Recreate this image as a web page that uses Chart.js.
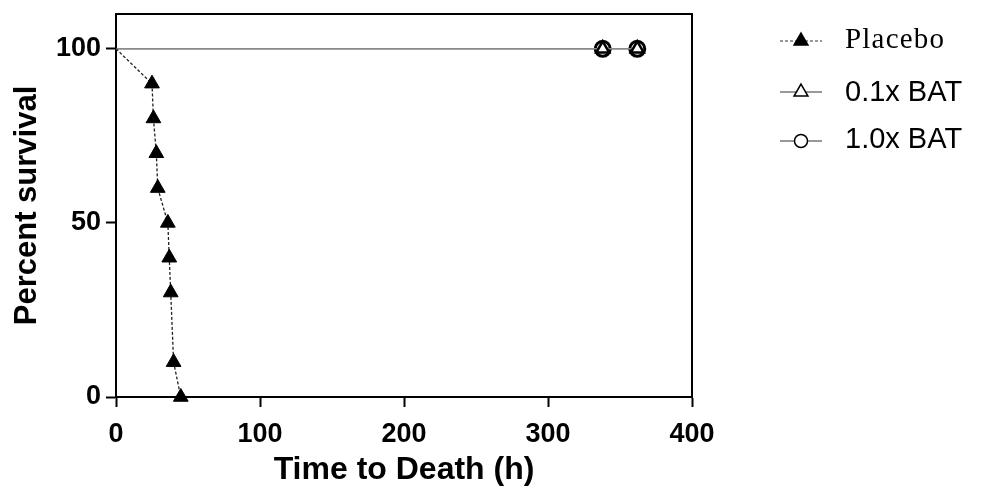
<!DOCTYPE html>
<html lang="en">
<head>
<meta charset="UTF-8">
<title>Percent survival</title>
<script src="https://cdn.jsdelivr.net/npm/chart.js"></script>
<style>
  html, body { margin: 0; padding: 0; background: #fff; }
  .chart-container { position: relative; width: 984px; height: 486px; }
</style>
</head>
<body>
<div class="chart-container">
  <canvas id="Chart"></canvas>
</div>
<script>
// Data
const seriesNames = ["Placebo", "0.1x BAT", "1.0x BAT"];
const placeboTime = [0, 25, 26, 28, 29, 36, 37, 38, 40, 45];
const placeboSurvival = [100, 90, 80, 70, 60, 50, 40, 30, 10, 0];
const batTime = [0, 338, 362];
const bat01Survival = [100, 100, 100];
const bat10Survival = [100, 100, 100];
const xTicks = [0, 100, 200, 300, 400];
const yTicks = [0, 50, 100];

const toPoints = (xs, ys) => xs.map((x, i) => ({ x: x, y: ys[i] }));

const tickFont = { family: "'Liberation Sans', Arial, sans-serif", size: 27, weight: "bold" };
const xTitleFont = { family: "'Liberation Sans', Arial, sans-serif", size: 32, weight: "bold" };
const yTitleFont = { family: "'Liberation Sans', Arial, sans-serif", size: 31, weight: "bold" };

// top and right sides of the plot frame
const framePlugin = {
  id: "frame",
  beforeDatasetsDraw(chart) {
    const { ctx, chartArea: a } = chart;
    ctx.save();
    ctx.strokeStyle = "#000";
    ctx.lineWidth = 2;
    ctx.beginPath();
    ctx.moveTo(a.left, a.top);
    ctx.lineTo(a.right, a.top);
    ctx.lineTo(a.right, a.bottom);
    ctx.stroke();
    ctx.restore();
  }
};

// legend to the right of the plot, like the original figure
const sideLegendPlugin = {
  id: "sideLegend",
  afterDraw(chart, args, opts) {
    const ctx = chart.ctx;
    ctx.save();
    chart.data.datasets.forEach((ds, i) => {
      const y = opts.rows[i];
      const x0 = opts.lineStart, x1 = opts.lineEnd, xm = (x0 + x1) / 2;
      ctx.strokeStyle = ds.legendLineColor;
      ctx.lineWidth = 1.2;
      ctx.setLineDash(ds.borderDash || []);
      ctx.beginPath();
      ctx.moveTo(x0, y);
      ctx.lineTo(x1, y);
      ctx.stroke();
      ctx.setLineDash([]);

      const r = opts.markerRadius[i];
      ctx.beginPath();
      if (ds.pointStyle === "circle") {
        ctx.arc(xm, y, r, 0, Math.PI * 2);
      } else {
        for (let k = 0; k < 3; k++) {
          const ang = k * 2 * Math.PI / 3;
          const px = xm + Math.sin(ang) * r, py = y - Math.cos(ang) * r;
          if (k === 0) ctx.moveTo(px, py); else ctx.lineTo(px, py);
        }
        ctx.closePath();
      }
      ctx.fillStyle = ds.legendFill;
      ctx.fill();
      ctx.strokeStyle = "#000";
      ctx.lineWidth = 1.5;
      ctx.stroke();

      ctx.fillStyle = "#000";
      ctx.font = opts.fonts[i];
      ctx.letterSpacing = opts.spacing[i];
      ctx.textBaseline = "alphabetic";
      ctx.textAlign = "left";
      ctx.fillText(seriesNames[i], opts.textStart, opts.baselines[i]);
      ctx.letterSpacing = "0px";
    });
    ctx.restore();
  }
};

new Chart(document.getElementById("Chart").getContext("2d"), {
  type: "scatter",
  data: {
    datasets: [
      {
        label: seriesNames[0],
        data: toPoints(placeboTime, placeboSurvival),
        showLine: true,
        borderColor: "#222",
        borderWidth: 1.3,
        borderDash: [3, 2],
        pointStyle: "triangle",
        pointRadius: placeboTime.map((t) => (t === 0 ? 0 : 8.5)),
        pointBackgroundColor: "#000",
        pointBorderColor: "#000",
        pointBorderWidth: 1,
        legendLineColor: "#333",
        legendFill: "#000",
        clip: false
      },
      {
        label: seriesNames[1],
        data: toPoints(batTime, bat01Survival),
        showLine: true,
        borderColor: "#8a8a8a",
        borderWidth: 1.5,
        pointStyle: "triangle",
        pointRadius: batTime.map((t) => (t === 0 ? 0 : 7.5)),
        pointBackgroundColor: "#fff",
        pointBorderColor: "#000",
        pointBorderWidth: 2.5,
        legendLineColor: "#333",
        legendFill: "#fff",
        clip: false
      },
      {
        label: seriesNames[2],
        data: toPoints(batTime, bat10Survival),
        showLine: true,
        borderColor: "#8a8a8a",
        borderWidth: 1.5,
        pointStyle: "circle",
        pointRadius: batTime.map((t) => (t === 0 ? 0 : 7.5)),
        pointBackgroundColor: "#fff",
        pointBorderColor: "#000",
        pointBorderWidth: 3,
        legendLineColor: "#333",
        legendFill: "#fff",
        clip: false
      }
    ]
  },
  options: {
    responsive: true,
    maintainAspectRatio: false,
    animation: false,
    layout: { padding: { left: 0, top: 14, right: 292, bottom: 0 } },
    plugins: {
      legend: { display: false },
      tooltip: { enabled: false },
      sideLegend: {
        rows: [41, 92, 141],
        lineStart: 780,
        lineEnd: 822,
        textStart: 845,
        baselines: [48, 101, 148],
        markerRadius: [8, 8, 6.5],
        fonts: [
          "29px 'Liberation Serif', 'Times New Roman', serif",
          "29px 'Liberation Sans', Arial, sans-serif",
          "29px 'Liberation Sans', Arial, sans-serif"
        ],
        spacing: ["1.2px", "0px", "0px"]
      }
    },
    scales: {
      x: {
        type: "linear",
        min: xTicks[0],
        max: xTicks[xTicks.length - 1],
        afterBuildTicks: (scale) => { scale.ticks = xTicks.map((v) => ({ value: v })); },
        afterFit: (scale) => { scale.height = 89; },
        grid: { drawOnChartArea: false, drawTicks: true, tickLength: 10, tickWidth: 2, tickColor: "#000" },
        border: { display: true, color: "#000", width: 2 },
        ticks: { color: "#000", font: tickFont, padding: 11, maxRotation: 0 },
        title: { display: true, text: "Time to Death (h)", color: "#000", font: xTitleFont, padding: { top: 0, bottom: -3 } }
      },
      y: {
        type: "linear",
        min: 0,
        max: 110,
        afterBuildTicks: (scale) => { scale.ticks = yTicks.map((v) => ({ value: v })); },
        afterFit: (scale) => { scale.width = 116; scale.paddingTop = 0; scale.paddingBottom = 0; },
        grid: { drawOnChartArea: false, drawTicks: true, tickLength: 10, tickWidth: 2, tickColor: "#000" },
        border: { display: true, color: "#000", width: 2 },
        ticks: { color: "#000", font: tickFont, padding: 5 },
        title: { display: true, text: "Percent survival", color: "#000", font: yTitleFont, padding: { top: 9, bottom: 0 } }
      }
    }
  },
  plugins: [framePlugin, sideLegendPlugin]
});
</script>
</body>
</html>
